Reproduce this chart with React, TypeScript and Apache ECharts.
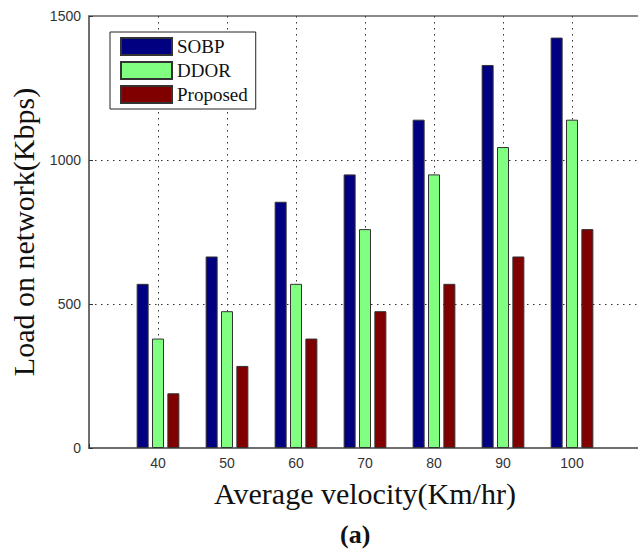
import React, { useEffect, useRef } from "react";
import * as echarts from "echarts";

const velocities = [40, 50, 60, 70, 80, 90, 100];
const sobp = [570, 665, 855, 950, 1140, 1330, 1425];
const ddor = [380, 475, 570, 760, 950, 1045, 1140];
const proposed = [190, 285, 380, 475, 570, 665, 760];
const seriesNames = ["SOBP", "DDOR", "Proposed"];
const seriesColors = ["#000080", "#80ff80", "#800000"];
const yTicks = [0, 500, 1000, 1500];

export default function App() {
  const ref = useRef<HTMLDivElement>(null);
  useEffect(() => {
    if (!ref.current) return;
    const chart = echarts.init(ref.current, undefined, { renderer: "svg" });
    const values = [sobp, ddor, proposed];
    const axisFont = { fontFamily: "Liberation Sans", fontSize: 14, color: "#333" };
    chart.setOption({
      animation: false,
      backgroundColor: "#fff",
      grid: {
        left: 89,
        width: 552,
        top: 16,
        bottom: 106,
        containLabel: false,
        outerBoundsMode: "none",
        show: true,
        borderColor: "#666",
        borderWidth: 1.5,
        backgroundColor: "transparent",
      },
      legend: {
        left: 110,
        top: 32,
        orient: "vertical",
        data: seriesNames,
        itemWidth: 51,
        itemHeight: 17,
        itemGap: 5,
        itemTextGap: 5,
        padding: [5, 8, 5, 10],
        borderColor: "#222",
        borderWidth: 1,
        backgroundColor: "#fff",
        textStyle: { fontFamily: "Liberation Serif", fontSize: 19, color: "#111" },
        icon: "rect",
      },
      xAxis: {
        type: "value",
        min: 30,
        max: 110,
        interval: 10,
        axisLine: { show: true, lineStyle: { color: "#666", width: 1.5 } },
        axisTick: { show: true, inside: true, length: 4, lineStyle: { color: "#333" } },
        axisLabel: {
          ...axisFont,
          margin: 8,
          formatter: (v: number) => (velocities.includes(v) ? String(v) : ""),
        },
        splitLine: {
          show: true,
          showMinLine: false,
          showMaxLine: false,
          lineStyle: { color: "#333", type: [1.5, 4.5], width: 1 },
        },
        name: "Average velocity(Km/hr)",
        nameLocation: "middle",
        nameGap: 30,
        nameTextStyle: { fontFamily: "Liberation Serif", fontSize: 30, color: "#111" },
      },
      yAxis: {
        type: "value",
        min: yTicks[0],
        max: yTicks[yTicks.length - 1],
        interval: 500,
        axisLine: { show: true, lineStyle: { color: "#666", width: 1.5 } },
        axisTick: { show: true, inside: true, length: 4, lineStyle: { color: "#333" } },
        axisLabel: { ...axisFont, margin: 8, formatter: (v: number) => String(v) },
        splitLine: {
          show: true,
          showMinLine: false,
          showMaxLine: false,
          lineStyle: { color: "#333", type: [1.5, 4.5], width: 1 },
        },
        name: "Load on network(Kbps)",
        nameLocation: "middle",
        nameGap: 50,
        nameTextStyle: { fontFamily: "Liberation Serif", fontSize: 30, color: "#111" },
      },
      series: seriesNames.map((name, i) => ({
        name,
        type: "bar",
        barWidth: 12,
        barGap: "28%",
        data: velocities.map((v, j) => [v, values[i][j]]),
        itemStyle: { color: seriesColors[i], borderColor: "#333", borderWidth: 1 },
      })),
      graphic: [
        {
          type: "text",
          left: 340,
          top: 521,
          style: {
            text: "(a)",
            font: "bold 26px 'Liberation Serif'",
            fill: "#111",
          },
        },
      ],
    });
    return () => chart.dispose();
  }, []);
  return (
    <div
      ref={ref}
      style={{ position: "absolute", left: 0, top: 0, width: 638, height: 554 }}
    />
  );
}
